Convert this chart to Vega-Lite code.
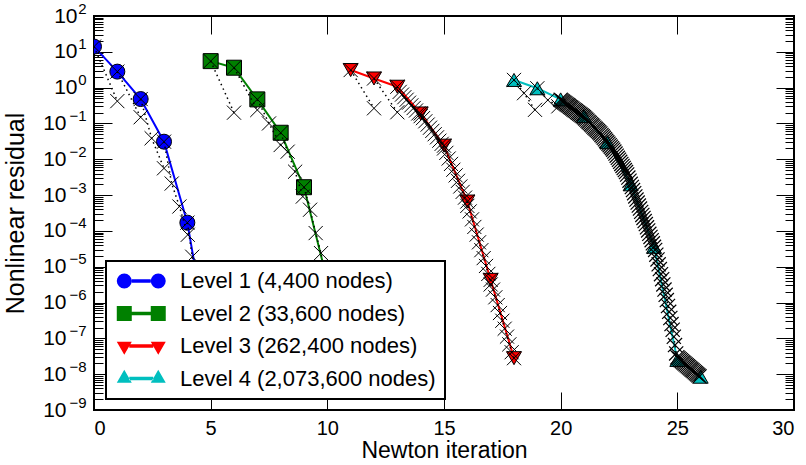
{
"$schema": "https://vega.github.io/schema/vega-lite/v6.json",
"width": 700, "height": 394,
"autosize": "none",
"padding": {"left": 94, "top": 16, "right": 12, "bottom": 55},
"background": "white",
"config": {
  "view": {"stroke": "black", "strokeWidth": 2},
  "font": "Liberation Sans",
  "axis": {"grid": false, "domain": false, "tickColor": "black", "tickWidth": 1, "labelColor": "black", "titleColor": "black", "labelFont": "Liberation Sans", "titleFont": "Liberation Sans", "titleFontWeight": "normal"},
  "legend": {"strokeWidth": 2}
},
"datasets": {
  "nw": [
    {"level": "Level 1 (4,400 nodes)", "x": 0, "y": 14},
    {"level": "Level 1 (4,400 nodes)", "x": 1, "y": 2.8},
    {"level": "Level 1 (4,400 nodes)", "x": 2, "y": 0.48},
    {"level": "Level 1 (4,400 nodes)", "x": 3, "y": 0.031},
    {"level": "Level 1 (4,400 nodes)", "x": 4, "y": 1.7e-4},
    {"level": "Level 1 (4,400 nodes)", "x": 5, "y": 3e-8},
    {"level": "Level 2 (33,600 nodes)", "x": 5, "y": 5.5},
    {"level": "Level 2 (33,600 nodes)", "x": 6, "y": 3.6},
    {"level": "Level 2 (33,600 nodes)", "x": 7, "y": 0.47},
    {"level": "Level 2 (33,600 nodes)", "x": 8, "y": 0.055},
    {"level": "Level 2 (33,600 nodes)", "x": 9, "y": 1.66e-3},
    {"level": "Level 2 (33,600 nodes)", "x": 10, "y": 4e-6},
    {"level": "Level 2 (33,600 nodes)", "x": 11, "y": 2e-8},
    {"level": "Level 3 (262,400 nodes)", "x": 11, "y": 3.1},
    {"level": "Level 3 (262,400 nodes)", "x": 12, "y": 1.8},
    {"level": "Level 3 (262,400 nodes)", "x": 13, "y": 1.06},
    {"level": "Level 3 (262,400 nodes)", "x": 14, "y": 0.19},
    {"level": "Level 3 (262,400 nodes)", "x": 15, "y": 0.024},
    {"level": "Level 3 (262,400 nodes)", "x": 16, "y": 6.6e-4},
    {"level": "Level 3 (262,400 nodes)", "x": 17, "y": 4.3e-6},
    {"level": "Level 3 (262,400 nodes)", "x": 18, "y": 2.8e-8},
    {"level": "Level 4 (2,073,600 nodes)", "x": 18, "y": 1.64},
    {"level": "Level 4 (2,073,600 nodes)", "x": 19, "y": 0.96},
    {"level": "Level 4 (2,073,600 nodes)", "x": 20, "y": 0.47},
    {"level": "Level 4 (2,073,600 nodes)", "x": 21, "y": 0.16},
    {"level": "Level 4 (2,073,600 nodes)", "x": 22, "y": 0.03},
    {"level": "Level 4 (2,073,600 nodes)", "x": 23, "y": 2.0e-3},
    {"level": "Level 4 (2,073,600 nodes)", "x": 24, "y": 3.6e-5},
    {"level": "Level 4 (2,073,600 nodes)", "x": 25, "y": 2.5e-8},
    {"level": "Level 4 (2,073,600 nodes)", "x": 26, "y": 8.5e-9}
  ],
  "sub": [
    {"g": "1a", "x": 0, "y": 14}, {"g": "1a", "x": 1, "y": 0.42},
    {"g": "1b", "x": 1, "y": 2.8}, {"g": "1b", "x": 2, "y": 0.149},
    {"g": "1c", "x": 2, "y": 0.48}, {"g": "1c", "x": 2.47, "y": 0.0386}, {"g": "1c", "x": 3, "y": 5.6e-3},
    {"g": "1d", "x": 3, "y": 0.031}, {"g": "1d", "x": 3.33, "y": 2.1e-3}, {"g": "1d", "x": 3.66, "y": 4.8e-4}, {"g": "1d", "x": 4.02, "y": 7.8e-5},
    {"g": "1e", "x": 4, "y": 1.7e-4}, {"g": "1e", "x": 4.21, "y": 1.9e-5}, {"g": "1e", "x": 4.5, "y": 1.6e-6}, {"g": "1e", "x": 4.75, "y": 1e-7}, {"g": "1e", "x": 5, "y": 1.6e-8},
    {"g": "2a", "x": 5, "y": 5.5}, {"g": "2a", "x": 6, "y": 0.2},
    {"g": "2b", "x": 6, "y": 3.6}, {"g": "2b", "x": 7, "y": 0.238},
    {"g": "2c", "x": 7, "y": 0.47}, {"g": "2c", "x": 7.5, "y": 0.1}, {"g": "2c", "x": 8, "y": 0.025},
    {"g": "2d", "x": 8, "y": 0.055}, {"g": "2d", "x": 8.3, "y": 0.0163}, {"g": "2d", "x": 8.62, "y": 4.5e-3}, {"g": "2d", "x": 8.95, "y": 9.1e-4},
    {"g": "2e", "x": 9, "y": 1.66e-3}, {"g": "2e", "x": 9.26, "y": 3.9e-4}, {"g": "2e", "x": 9.5, "y": 8.7e-5}, {"g": "2e", "x": 9.73, "y": 2.4e-5}, {"g": "2e", "x": 10, "y": 2e-6},
    {"g": "2f", "x": 10, "y": 4e-6}, {"g": "2f", "x": 10.5, "y": 1e-7}, {"g": "2f", "x": 11, "y": 2e-8},
    {"g": "3a", "x": 11, "y": 3.1}, {"g": "3a", "x": 12, "y": 0.265},
    {"g": "3b", "x": 12, "y": 1.8}, {"g": "3b", "x": 13, "y": 0.205},
    {"g": "3c", "x": 13, "y": 1.06}, {"g": "3c", "x": 13.1, "y": 0.76}, {"g": "3c", "x": 13.2, "y": 0.64}, {"g": "3c", "x": 13.3, "y": 0.54}, {"g": "3c", "x": 13.4, "y": 0.46}, {"g": "3c", "x": 13.5, "y": 0.38}, {"g": "3c", "x": 13.6, "y": 0.32}, {"g": "3c", "x": 13.7, "y": 0.27}, {"g": "3c", "x": 13.8, "y": 0.23}, {"g": "3c", "x": 13.9, "y": 0.19}, {"g": "3c", "x": 14, "y": 0.16},
    {"g": "3d", "x": 14, "y": 0.19}, {"g": "3d", "x": 14.1, "y": 0.141}, {"g": "3d", "x": 14.2, "y": 0.115}, {"g": "3d", "x": 14.3, "y": 0.093}, {"g": "3d", "x": 14.4, "y": 0.076}, {"g": "3d", "x": 14.5, "y": 0.062}, {"g": "3d", "x": 14.6, "y": 0.05}, {"g": "3d", "x": 14.7, "y": 0.041}, {"g": "3d", "x": 14.8, "y": 0.033}, {"g": "3d", "x": 14.9, "y": 0.027}, {"g": "3d", "x": 15, "y": 0.02},
    {"g": "3e", "x": 15, "y": 0.024}, {"g": "3e", "x": 15.1, "y": 0.0151}, {"g": "3e", "x": 15.2, "y": 0.0105}, {"g": "3e", "x": 15.3, "y": 7.4e-3}, {"g": "3e", "x": 15.4, "y": 5.1e-3}, {"g": "3e", "x": 15.5, "y": 3.55e-3}, {"g": "3e", "x": 15.6, "y": 2.5e-3}, {"g": "3e", "x": 15.7, "y": 1.74e-3}, {"g": "3e", "x": 15.8, "y": 1.23e-3}, {"g": "3e", "x": 15.9, "y": 8.5e-4}, {"g": "3e", "x": 16, "y": 5e-4},
    {"g": "3f", "x": 16, "y": 6.6e-4}, {"g": "3f", "x": 16.1, "y": 3.5e-4}, {"g": "3f", "x": 16.2, "y": 2.1e-4}, {"g": "3f", "x": 16.3, "y": 1.29e-4}, {"g": "3f", "x": 16.4, "y": 7.9e-5}, {"g": "3f", "x": 16.5, "y": 4.8e-5}, {"g": "3f", "x": 16.6, "y": 2.9e-5}, {"g": "3f", "x": 16.7, "y": 1.74e-5}, {"g": "3f", "x": 16.8, "y": 1.05e-5}, {"g": "3f", "x": 16.9, "y": 6.3e-6}, {"g": "3f", "x": 17, "y": 3.2e-6},
    {"g": "3g", "x": 17, "y": 4.3e-6}, {"g": "3g", "x": 17.1, "y": 2.3e-6}, {"g": "3g", "x": 17.2, "y": 1.4e-6}, {"g": "3g", "x": 17.3, "y": 8.5e-7}, {"g": "3g", "x": 17.4, "y": 5.1e-7}, {"g": "3g", "x": 17.5, "y": 3.1e-7}, {"g": "3g", "x": 17.6, "y": 1.86e-7}, {"g": "3g", "x": 17.7, "y": 1.12e-7}, {"g": "3g", "x": 17.8, "y": 6.8e-8}, {"g": "3g", "x": 17.9, "y": 4.1e-8}, {"g": "3g", "x": 18, "y": 2.8e-8},
    {"g": "4a", "x": 18, "y": 1.64}, {"g": "4a", "x": 18.43, "y": 0.7}, {"g": "4a", "x": 18.9, "y": 0.24},
    {"g": "4b", "x": 19, "y": 0.96}, {"g": "4b", "x": 19.45, "y": 0.45}, {"g": "4b", "x": 19.9, "y": 0.3},
    {"g": "4c", "x": 20.0, "y": 0.457}, {"g": "4c", "x": 20.05, "y": 0.432}, {"g": "4c", "x": 20.1, "y": 0.409}, {"g": "4c", "x": 20.15, "y": 0.387}, {"g": "4c", "x": 20.2, "y": 0.366}, {"g": "4c", "x": 20.25, "y": 0.346}, {"g": "4c", "x": 20.3, "y": 0.327}, {"g": "4c", "x": 20.35, "y": 0.31}, {"g": "4c", "x": 20.4, "y": 0.292}, {"g": "4c", "x": 20.45, "y": 0.277},
    {"g": "4c", "x": 20.5, "y": 0.262}, {"g": "4c", "x": 20.55, "y": 0.247}, {"g": "4c", "x": 20.6, "y": 0.234}, {"g": "4c", "x": 20.65, "y": 0.221}, {"g": "4c", "x": 20.7, "y": 0.209}, {"g": "4c", "x": 20.75, "y": 0.198}, {"g": "4c", "x": 20.8, "y": 0.187}, {"g": "4c", "x": 20.85, "y": 0.177}, {"g": "4c", "x": 20.9, "y": 0.167}, {"g": "4c", "x": 20.95, "y": 0.158},
    {"g": "4c", "x": 21.0, "y": 0.148}, {"g": "4c", "x": 21.05, "y": 0.138}, {"g": "4c", "x": 21.1, "y": 0.128}, {"g": "4c", "x": 21.15, "y": 0.119}, {"g": "4c", "x": 21.2, "y": 0.11}, {"g": "4c", "x": 21.25, "y": 0.103}, {"g": "4c", "x": 21.3, "y": 0.0953}, {"g": "4c", "x": 21.35, "y": 0.0885}, {"g": "4c", "x": 21.4, "y": 0.0822}, {"g": "4c", "x": 21.45, "y": 0.0764},
    {"g": "4c", "x": 21.5, "y": 0.071}, {"g": "4c", "x": 21.55, "y": 0.0659}, {"g": "4c", "x": 21.6, "y": 0.0614}, {"g": "4c", "x": 21.65, "y": 0.057}, {"g": "4c", "x": 21.7, "y": 0.0527}, {"g": "4c", "x": 21.75, "y": 0.0479}, {"g": "4c", "x": 21.8, "y": 0.0436}, {"g": "4c", "x": 21.85, "y": 0.0396}, {"g": "4c", "x": 21.9, "y": 0.0361}, {"g": "4c", "x": 21.95, "y": 0.0327},
    {"g": "4c", "x": 22.0, "y": 0.0298}, {"g": "4c", "x": 22.05, "y": 0.0271}, {"g": "4c", "x": 22.1, "y": 0.0247}, {"g": "4c", "x": 22.15, "y": 0.0224}, {"g": "4c", "x": 22.2, "y": 0.0204}, {"g": "4c", "x": 22.25, "y": 0.0185}, {"g": "4c", "x": 22.3, "y": 0.0164}, {"g": "4c", "x": 22.35, "y": 0.0144}, {"g": "4c", "x": 22.4, "y": 0.0126}, {"g": "4c", "x": 22.45, "y": 0.011},
    {"g": "4c", "x": 22.5, "y": 9.7e-3}, {"g": "4c", "x": 22.55, "y": 8.5e-3}, {"g": "4c", "x": 22.6, "y": 7.4e-3}, {"g": "4c", "x": 22.65, "y": 6.5e-3}, {"g": "4c", "x": 22.7, "y": 5.7e-3}, {"g": "4c", "x": 22.75, "y": 5.0e-3}, {"g": "4c", "x": 22.8, "y": 4.4e-3}, {"g": "4c", "x": 22.85, "y": 3.76e-3}, {"g": "4c", "x": 22.9, "y": 3.08e-3}, {"g": "4c", "x": 22.95, "y": 2.52e-3},
    {"g": "4c", "x": 23.0, "y": 2.06e-3}, {"g": "4c", "x": 23.05, "y": 1.68e-3}, {"g": "4c", "x": 23.1, "y": 1.38e-3}, {"g": "4c", "x": 23.15, "y": 1.13e-3}, {"g": "4c", "x": 23.2, "y": 9.2e-4}, {"g": "4c", "x": 23.25, "y": 7.5e-4}, {"g": "4c", "x": 23.3, "y": 6.2e-4}, {"g": "4c", "x": 23.35, "y": 5.1e-4}, {"g": "4c", "x": 23.4, "y": 4.2e-4}, {"g": "4c", "x": 23.45, "y": 3.4e-4},
    {"g": "4c", "x": 23.5, "y": 2.8e-4}, {"g": "4c", "x": 23.55, "y": 2.3e-4}, {"g": "4c", "x": 23.6, "y": 1.88e-4}, {"g": "4c", "x": 23.65, "y": 1.55e-4}, {"g": "4c", "x": 23.7, "y": 1.26e-4}, {"g": "4c", "x": 23.75, "y": 1.03e-4}, {"g": "4c", "x": 23.8, "y": 8.3e-5}, {"g": "4c", "x": 23.85, "y": 6.8e-5}, {"g": "4c", "x": 23.9, "y": 5.5e-5}, {"g": "4c", "x": 23.95, "y": 4.5e-5},
    {"g": "4c", "x": 24.0, "y": 3.6e-5}, {"g": "4c", "x": 24.05, "y": 2.95e-5}, {"g": "4c", "x": 24.1, "y": 2.17e-5}, {"g": "4c", "x": 24.15, "y": 1.6e-5}, {"g": "4c", "x": 24.2, "y": 1.17e-5}, {"g": "4c", "x": 24.25, "y": 8.6e-6}, {"g": "4c", "x": 24.3, "y": 6.2e-6}, {"g": "4c", "x": 24.35, "y": 4.5e-6}, {"g": "4c", "x": 24.4, "y": 3.2e-6}, {"g": "4c", "x": 24.45, "y": 2.3e-6},
    {"g": "4c", "x": 24.5, "y": 1.64e-6}, {"g": "4c", "x": 24.55, "y": 1.17e-6}, {"g": "4c", "x": 24.6, "y": 8.0e-7}, {"g": "4c", "x": 24.65, "y": 5.5e-7}, {"g": "4c", "x": 24.7, "y": 3.7e-7}, {"g": "4c", "x": 24.75, "y": 2.5e-7}, {"g": "4c", "x": 24.8, "y": 1.74e-7}, {"g": "4c", "x": 24.85, "y": 1.11e-7}, {"g": "4c", "x": 24.9, "y": 6.5e-8}, {"g": "4c", "x": 24.95, "y": 3.8e-8},
    {"g": "4c", "x": 25.0, "y": 2.97e-8}, {"g": "4c", "x": 25.05, "y": 2.79e-8}, {"g": "4c", "x": 25.1, "y": 2.61e-8}, {"g": "4c", "x": 25.15, "y": 2.45e-8}, {"g": "4c", "x": 25.2, "y": 2.3e-8}, {"g": "4c", "x": 25.25, "y": 2.15e-8}, {"g": "4c", "x": 25.3, "y": 2.02e-8}, {"g": "4c", "x": 25.35, "y": 1.89e-8}, {"g": "4c", "x": 25.4, "y": 1.77e-8}, {"g": "4c", "x": 25.45, "y": 1.66e-8},
    {"g": "4c", "x": 25.5, "y": 1.56e-8}, {"g": "4c", "x": 25.55, "y": 1.46e-8}, {"g": "4c", "x": 25.6, "y": 1.37e-8}, {"g": "4c", "x": 25.65, "y": 1.29e-8}, {"g": "4c", "x": 25.7, "y": 1.21e-8}, {"g": "4c", "x": 25.75, "y": 1.13e-8}, {"g": "4c", "x": 25.8, "y": 1.06e-8}, {"g": "4c", "x": 25.85, "y": 9.9e-9}, {"g": "4c", "x": 25.9, "y": 9.3e-9}, {"g": "4c", "x": 25.95, "y": 8.7e-9}
  ]
},
"resolve": {"axis": {"x": "independent", "y": "independent"}, "scale": {"shape": "independent"}, "legend": {"color": "independent", "shape": "independent"}},
"layer": [
  {
    "data": {"name": "nw"},
    "mark": {"type": "line", "strokeWidth": 2, "clip": true},
    "encoding": {
      "x": {"field": "x", "type": "quantitative", "scale": {"domain": [0, 30], "nice": false, "zero": false},
        "axis": {"orient": "bottom", "values": [0, 5, 10, 15, 20, 25, 30], "tickSize": -18, "labelPadding": 26, "labelFontSize": 20, "title": "Newton iteration", "titleFontSize": 23, "titlePadding": 1}},
      "y": {"field": "y", "type": "quantitative", "scale": {"type": "log", "domain": [1e-9, 100], "nice": false},
        "axis": {"orient": "left", "values": [1e-9, 1e-8, 1e-7, 1e-6, 1e-5, 1e-4, 1e-3, 1e-2, 1e-1, 1, 10, 100], "tickSize": -18, "labels": false, "title": null}},
      "color": {"field": "level", "type": "nominal",
        "scale": {"domain": ["Level 1 (4,400 nodes)", "Level 2 (33,600 nodes)", "Level 3 (262,400 nodes)", "Level 4 (2,073,600 nodes)"], "range": ["#0000ff", "#008000", "#ff0000", "#00bfbf"]},
        "legend": null}
    }
  },
  {
    "data": {"name": "nw"},
    "mark": {"type": "point", "filled": true, "opacity": 1, "size": 225, "stroke": "black", "strokeWidth": 1, "clip": true},
    "encoding": {
      "x": {"field": "x", "type": "quantitative", "scale": {"domain": [0, 30], "nice": false, "zero": false},
        "axis": {"orient": "top", "values": [0, 5, 10, 15, 20, 25, 30], "tickSize": -18, "labels": false, "title": null}},
      "y": {"field": "y", "type": "quantitative", "scale": {"type": "log", "domain": [1e-9, 100], "nice": false},
        "axis": {"orient": "right", "values": [1e-9, 1e-8, 1e-7, 1e-6, 1e-5, 1e-4, 1e-3, 1e-2, 1e-1, 1, 10, 100], "tickSize": -18, "labels": false, "title": null}},
      "shape": {"field": "level", "type": "nominal",
        "scale": {"domain": ["Level 1 (4,400 nodes)", "Level 2 (33,600 nodes)", "Level 3 (262,400 nodes)", "Level 4 (2,073,600 nodes)"], "range": ["circle", "square", "triangle-down", "triangle-up"]},
        "legend": null},
      "color": {"field": "level", "type": "nominal",
        "scale": {"domain": ["Level 1 (4,400 nodes)", "Level 2 (33,600 nodes)", "Level 3 (262,400 nodes)", "Level 4 (2,073,600 nodes)"], "range": ["#0000ff", "#008000", "#ff0000", "#00bfbf"]},
        "legend": null}
    }
  },
  {
    "data": {"name": "sub"},
    "transform": [{"filter": "datum.g != '4c'"}],
    "mark": {"type": "point", "shape": "M-1,-1L1,1M-1,1L1,-1", "filled": false, "opacity": 1, "size": 200, "stroke": "black", "strokeWidth": 1, "clip": true},
    "encoding": {
      "x": {"field": "x", "type": "quantitative", "scale": {"domain": [0, 30], "nice": false, "zero": false}, "axis": null},
      "y": {"field": "y", "type": "quantitative", "scale": {"type": "log", "domain": [1e-9, 100], "nice": false},
        "axis": {"orient": "left", "values": [2e-9,3e-9,4e-9,5e-9,6e-9,7e-9,8e-9,9e-9,2e-8,3e-8,4e-8,5e-8,6e-8,7e-8,8e-8,9e-8,2e-7,3e-7,4e-7,5e-7,6e-7,7e-7,8e-7,9e-7,2e-6,3e-6,4e-6,5e-6,6e-6,7e-6,8e-6,9e-6,2e-5,3e-5,4e-5,5e-5,6e-5,7e-5,8e-5,9e-5,2e-4,3e-4,4e-4,5e-4,6e-4,7e-4,8e-4,9e-4,0.002,0.003,0.004,0.005,0.006,0.007,0.008,0.009,0.02,0.03,0.04,0.05,0.06,0.07,0.08,0.09,0.2,0.3,0.4,0.5,0.6,0.7,0.8,0.9,2,3,4,5,6,7,8,9,20,30,40,50,60,70,80,90], "tickSize": -9, "labels": false, "title": null}}
    }
  },
  {
    "data": {"name": "sub"},
    "transform": [{"filter": "datum.g == '4c'"}],
    "mark": {"type": "point", "shape": "M-1,-1L1,1M-1,1L1,-1", "filled": false, "opacity": 1, "size": 200, "stroke": "black", "strokeWidth": 1.2, "clip": true},
    "encoding": {
      "x": {"field": "x", "type": "quantitative", "scale": {"domain": [0, 30], "nice": false, "zero": false}, "axis": null},
      "y": {"field": "y", "type": "quantitative", "scale": {"type": "log", "domain": [1e-9, 100], "nice": false},
        "axis": {"orient": "right", "values": [2e-9,3e-9,4e-9,5e-9,6e-9,7e-9,8e-9,9e-9,2e-8,3e-8,4e-8,5e-8,6e-8,7e-8,8e-8,9e-8,2e-7,3e-7,4e-7,5e-7,6e-7,7e-7,8e-7,9e-7,2e-6,3e-6,4e-6,5e-6,6e-6,7e-6,8e-6,9e-6,2e-5,3e-5,4e-5,5e-5,6e-5,7e-5,8e-5,9e-5,2e-4,3e-4,4e-4,5e-4,6e-4,7e-4,8e-4,9e-4,0.002,0.003,0.004,0.005,0.006,0.007,0.008,0.009,0.02,0.03,0.04,0.05,0.06,0.07,0.08,0.09,0.2,0.3,0.4,0.5,0.6,0.7,0.8,0.9,2,3,4,5,6,7,8,9,20,30,40,50,60,70,80,90], "tickSize": -9, "labels": false, "title": null}}
    }
  },
  {
    "data": {"name": "sub"},
    "mark": {"type": "line", "color": "black", "strokeWidth": 1.5, "strokeDash": [1.5, 3.5], "clip": true},
    "encoding": {
      "x": {"field": "x", "type": "quantitative", "scale": {"domain": [0, 30], "nice": false, "zero": false}, "axis": null},
      "y": {"field": "y", "type": "quantitative", "scale": {"type": "log", "domain": [1e-9, 100], "nice": false},
        "axis": {"orient": "left", "values": [1e-9, 1e-8, 1e-7, 1e-6, 1e-5, 1e-4, 1e-3, 1e-2, 1e-1], "ticks": false, "labelPadding": 28, "labelFontSize": 21, "labelExpr": "'10'", "title": "Nonlinear residual", "titleFontSize": 25, "titlePadding": 14}},
      "detail": {"field": "g", "type": "nominal"}
    }
  },
  {
    "data": {"name": "nw"},
    "mark": {"type": "point", "opacity": 0},
    "encoding": {
      "x": {"field": "x", "type": "quantitative", "scale": {"domain": [0, 30], "nice": false, "zero": false}, "axis": null},
      "y": {"field": "y", "type": "quantitative", "scale": {"type": "log", "domain": [1e-9, 100], "nice": false},
        "axis": {"orient": "left", "values": [1, 10, 100], "ticks": false, "labelPadding": 17, "labelFontSize": 21, "labelExpr": "'10'", "title": null}}
    }
  },
  {
    "data": {"name": "nw"},
    "transform": [{"filter": "false"}],
    "mark": {"type": "point", "filled": true, "opacity": 1, "stroke": "black", "strokeWidth": 1},
    "encoding": {
      "x": {"field": "x", "type": "quantitative", "scale": {"domain": [0, 30], "nice": false, "zero": false}, "axis": null},
      "y": {"field": "y", "type": "quantitative", "scale": {"type": "log", "domain": [1e-9, 100], "nice": false},
        "axis": {"orient": "left", "values": [1e-9, 1e-8, 1e-7, 1e-6, 1e-5, 1e-4, 1e-3, 1e-2, 1e-1, 1, 10, 100], "ticks": false, "labelPadding": 8, "labelFontSize": 15, "labelOffset": -8, "labelExpr": "['−9','−8','−7','−6','−5','−4','−3','−2','−1','0','1','2'][round(log(datum.value)/LN10)+9]", "title": null}},
      "color": {"field": "level", "type": "nominal",
        "scale": {"domain": ["Level 1 (4,400 nodes)", "Level 2 (33,600 nodes)", "Level 3 (262,400 nodes)", "Level 4 (2,073,600 nodes)"], "range": ["#0000ff", "#008000", "#ff0000", "#00bfbf"]},
        "legend": {"orient": "none", "legendX": 12, "legendY": 245, "title": null, "fillColor": "white", "strokeColor": "black", "padding": 9, "labelFontSize": 22, "labelFont": "Liberation Sans", "labelColor": "black", "labelLimit": 0, "symbolSize": 225, "labelOffset": 43, "rowPadding": 10.5, "symbolStrokeColor": "black", "symbolStrokeWidth": 1, "symbolOpacity": 1}},
      "shape": {"field": "level", "type": "nominal",
        "scale": {"domain": ["Level 1 (4,400 nodes)", "Level 2 (33,600 nodes)", "Level 3 (262,400 nodes)", "Level 4 (2,073,600 nodes)"],
          "range": [
            "M0.77,0L0.694,0.383L0.477,0.707L0.153,0.924L-0.23,1L-0.613,0.924L-0.937,0.707L-1.154,0.383L-1.23,0L-1.154,-0.383L-0.937,-0.707L-0.613,-0.924L-0.23,-1L0.153,-0.924L0.477,-0.707L0.694,-0.383ZM0.77,-0.22L3.3,-0.22L3.3,0.22L0.77,0.22ZM5.3,0L5.224,0.383L5.007,0.707L4.683,0.924L4.3,1L3.917,0.924L3.593,0.707L3.376,0.383L3.3,0L3.376,-0.383L3.593,-0.707L3.917,-0.924L4.3,-1L4.683,-0.924L5.007,-0.707L5.224,-0.383Z",
            "M-1.23,-1L0.77,-1L0.77,1L-1.23,1ZM0.77,-0.22L3.3,-0.22L3.3,0.22L0.77,0.22ZM3.3,-1L5.3,-1L5.3,1L3.3,1Z",
            "M-0.23,1.155L-1.23,-0.577L0.77,-0.577ZM0.44,-0.22L3.63,-0.22L3.63,0.22L0.44,0.22ZM4.3,1.155L3.3,-0.577L5.3,-0.577Z",
            "M-0.23,-1.155L-1.23,0.577L0.77,0.577ZM0.44,-0.22L3.63,-0.22L3.63,0.22L0.44,0.22ZM4.3,-1.155L3.3,0.577L5.3,0.577Z"
          ]},
        "legend": {"orient": "none", "legendX": 12, "legendY": 245, "title": null, "fillColor": "white", "strokeColor": "black", "padding": 9, "labelFontSize": 22, "labelFont": "Liberation Sans", "labelColor": "black", "labelLimit": 0, "symbolSize": 225, "labelOffset": 43, "rowPadding": 10.5, "symbolStrokeColor": "black", "symbolStrokeWidth": 1, "symbolOpacity": 1}}
    }
  }
]
}
